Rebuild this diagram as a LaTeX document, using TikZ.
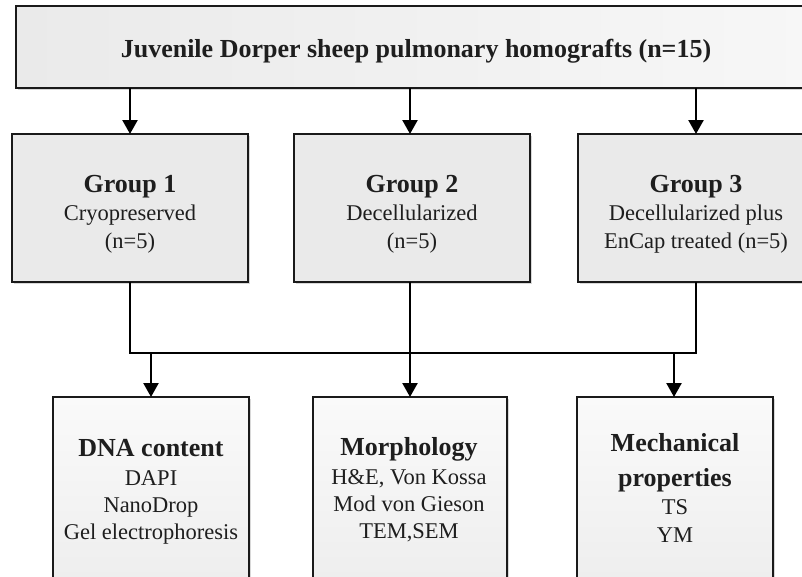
\documentclass[tikz,border=0pt]{standalone}
\usepackage{fontspec}
\setmainfont{Liberation Serif}
\usetikzlibrary{arrows.meta,shadows}
\definecolor{txt}{HTML}{1E1E1E}
\definecolor{bxa}{HTML}{EAEAEA}
\definecolor{bxb}{HTML}{F7F7F7}
\definecolor{bxc}{HTML}{FAFAFA}
\definecolor{edge}{HTML}{1A1A1A}
\begin{document}
\begin{tikzpicture}[x=1pt,y=-1pt,
  box/.style={draw=edge, line width=1.4pt, inner sep=0pt, outer sep=0pt,
    drop shadow={shadow xshift=1.5pt, shadow yshift=-1.5pt, opacity=.25, fill=black!60}},
  grp/.style={box, fill=bxa, minimum width=236pt, minimum height=148pt},
  res/.style={box, top color=bxc, bottom color=bxa, minimum width=196pt, minimum height=243pt},
  hd/.style={font=\fontsize{26}{28}\selectfont\bfseries, text=txt, anchor=base, inner sep=0pt},
  bd/.style={font=\fontsize{22.5}{28}\selectfont, text=txt, anchor=base, inner sep=0pt},
  ln/.style={line width=2.4pt, draw=black, line join=miter},
  arr/.style={ln, -{Triangle[width=15pt,length=14pt]}}]
\useasboundingbox (0,0) rectangle (802,576);
\clip (0,0) rectangle (802,576);
\fill[white] (0,0) rectangle (802,576);
% boxes
\node[box, left color=bxa, right color=bxb, minimum width=800pt, minimum height=82pt] (top) at (416,47) {};
\node[grp] (g1) at (130,208) {};
\node[grp] (g2) at (412,208) {};
\node[grp] (g3) at (696,208) {};
\node[res] (dna) at (151,518.5) {};
\node[res, minimum width=194pt] (mor) at (410,518.5) {};
\node[res] (mec) at (675,518.5) {};
% texts
\node[hd] (title) at (416,57) {Juvenile Dorper sheep pulmonary homografts (n=15)};
\node[hd] (g1a) at (130,192) {Group 1};
\node[bd] (g1b) at (130,220) {Cryopreserved};
\node[bd] (g1c) at (130,248) {(n=5)};
\node[hd] (g2a) at (412,192) {Group 2};
\node[bd] (g2b) at (412,220) {Decellularized};
\node[bd] (g2c) at (412,248) {(n=5)};
\node[hd] (g3a) at (696,192) {Group 3};
\node[bd] (g3b) at (696,220) {Decellularized plus};
\node[bd] (g3c) at (696,248) {EnCap treated (n=5)};
\node[hd] (dnaa) at (151,456) {DNA content};
\node[bd] (dnab) at (151,485) {DAPI};
\node[bd] (dnac) at (151,512) {NanoDrop};
\node[bd] (dnad) at (151,539) {Gel electrophoresis};
\node[hd] (mora) at (409,455) {Morphology};
\node[bd] (morb) at (409,484) {H\&E, Von Kossa};
\node[bd] (morc) at (409,511) {Mod von Gieson};
\node[bd] (mord) at (409,538) {TEM,SEM};
\node[hd] (meca) at (675,451) {Mechanical};
\node[hd] (mecb) at (675,486) {properties};
\node[bd] (mecc) at (675,514) {TS};
\node[bd] (mecd) at (675,542) {YM};
% connectors
\coordinate (bus) at (0,353);
\draw[arr] (top.south -| g1.south) -- (g1.north);
\draw[arr] (top.south -| 410,0) -- (g2.north -| 410,0);
\draw[arr] (top.south -| g3.south) -- (g3.north);
\draw[ln] (g1.south) |- (g3.south |- bus) -- (g3.south);
\draw[ln] (g2.south -| 410,0) -- (bus -| 410,0);
\draw[arr] (bus -| dna.north) -- (dna.north);
\draw[arr] (bus -| mor.north) -- (mor.north);
\draw[arr] (bus -| 674,0) -- (mec.north -| 674,0);
\end{tikzpicture}
\end{document}
